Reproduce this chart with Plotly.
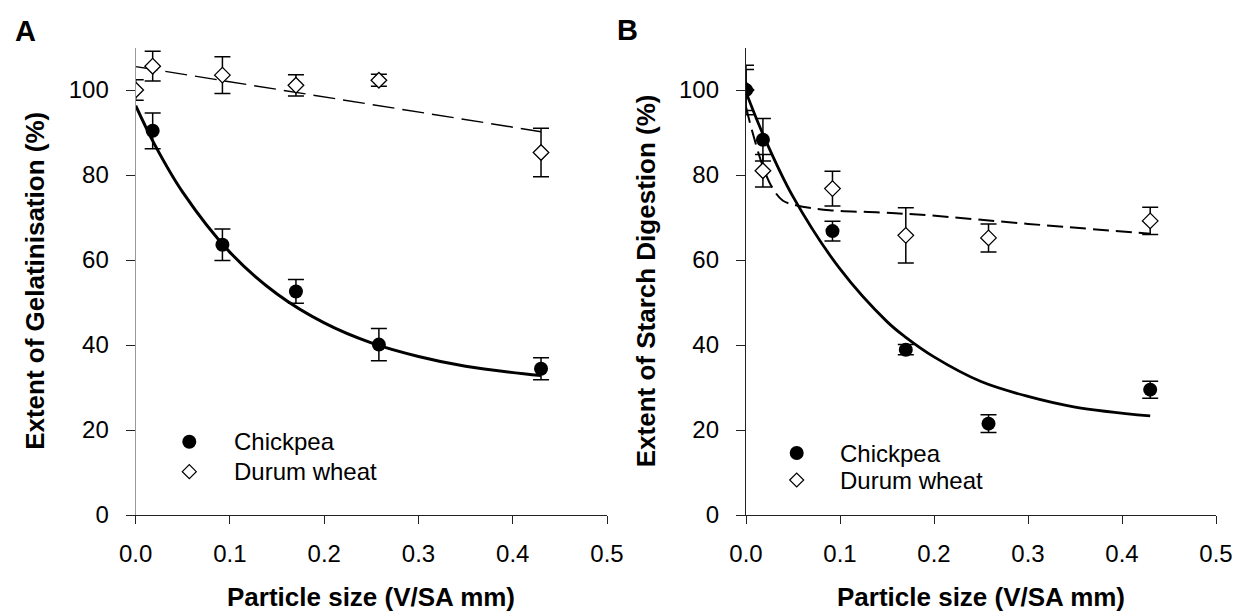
import plotly.graph_objects as go

# ---------------- data ----------------
x_pts = [0.0, 0.018, 0.092, 0.17, 0.258, 0.43]

# Panel A: Extent of gelatinisation (%)
a_chick_x = [0.018, 0.092, 0.17, 0.258, 0.43]
a_chick_y = [90.4, 63.6, 52.6, 40.1, 34.4]
a_chick_err = [4.2, 3.7, 2.8, 3.8, 2.6]
a_durum_y = [100.0, 105.6, 103.5, 101.1, 102.3, 85.3]
a_durum_err = [2.4, 3.5, 4.3, 2.5, 1.4, 5.7]
a_chick_fit_x = [0.0, 0.02, 0.05, 0.1, 0.15, 0.2, 0.25, 0.3, 0.35, 0.43]
a_chick_fit_y = [96.3, 87.2, 75.9, 61.8, 52.0, 45.2, 40.5, 37.3, 35.0, 32.8]
a_durum_fit_x = [0.0, 0.43]
a_durum_fit_y = [105.5, 90.2]

# Panel B: Extent of starch digestion (%)
b_chick_y = [100.0, 88.3, 66.8, 38.9, 21.5, 29.5]
b_chick_err = [4.8, 5.0, 2.3, 1.2, 2.1, 2.0]
b_durum_y = [100.0, 81.0, 76.8, 65.8, 65.2, 69.2]
b_durum_err = [5.8, 3.8, 4.1, 6.5, 3.3, 3.2]
b_chick_fit_x = [0.0, 0.02, 0.05, 0.1, 0.15, 0.17, 0.2, 0.25, 0.3, 0.35, 0.43]
b_chick_fit_y = [99.5, 88.6, 74.9, 57.9, 45.5, 41.8, 37.2, 31.4, 27.9, 25.4, 23.3]
b_durum_fit_x = [0.0, 0.007, 0.018, 0.028, 0.039, 0.053, 0.089, 0.142, 0.195, 0.3, 0.43]
b_durum_fit_y = [96.0, 90.0, 82.0, 77.0, 74.0, 72.9, 71.7, 71.2, 70.5, 68.5, 66.2]

x_ticks = [0.0, 0.1, 0.2, 0.3, 0.4, 0.5]
x_ticklabels = ["0.0", "0.1", "0.2", "0.3", "0.4", "0.5"]
y_ticks = [0, 20, 40, 60, 80, 100]

legend_labels = ["Chickpea", "Durum wheat"]
ytitle_a = "Extent of Gelatinisation (%)"
ytitle_b = "Extent of Starch Digestion (%)"
xtitle = "Particle size (V/SA mm)"

# ---------------- figure ----------------
W, H = 1237, 614
FONT = "Liberation Sans, Arial, sans-serif"

fig = go.Figure()

def err(arr):
    return dict(type="data", array=arr, visible=True, color="black",
                thickness=1.5, width=8)

# Panel A
fig.add_trace(go.Scatter(x=a_durum_fit_x, y=a_durum_fit_y, mode="lines",
                         line=dict(color="black", width=1.5, dash="22px,8px"),
                         xaxis="x", yaxis="y", showlegend=False))
fig.add_trace(go.Scatter(x=a_chick_fit_x, y=a_chick_fit_y, mode="lines",
                         line=dict(color="black", width=3, shape="spline"),
                         xaxis="x", yaxis="y", showlegend=False))
fig.add_trace(go.Scatter(x=x_pts, y=a_durum_y, mode="markers", error_y=err(a_durum_err),
                         marker=dict(symbol="diamond", size=12, color="white",
                                     line=dict(color="black", width=1.3)),
                         xaxis="x", yaxis="y", showlegend=False))
fig.add_trace(go.Scatter(x=a_chick_x, y=a_chick_y, mode="markers", error_y=err(a_chick_err),
                         marker=dict(symbol="circle", size=14, color="black"),
                         xaxis="x", yaxis="y", showlegend=False))

# Panel B
fig.add_trace(go.Scatter(x=b_durum_fit_x, y=b_durum_fit_y, mode="lines",
                         line=dict(color="black", width=2, dash="16px,7px", shape="spline"),
                         xaxis="x2", yaxis="y2", showlegend=False))
fig.add_trace(go.Scatter(x=b_chick_fit_x, y=b_chick_fit_y, mode="lines",
                         line=dict(color="black", width=2.8, shape="spline"),
                         xaxis="x2", yaxis="y2", showlegend=False))
fig.add_trace(go.Scatter(x=x_pts, y=b_durum_y, mode="markers", error_y=err(b_durum_err),
                         marker=dict(symbol="diamond", size=12, color="white",
                                     line=dict(color="black", width=1.3)),
                         xaxis="x2", yaxis="y2", showlegend=False))
fig.add_trace(go.Scatter(x=x_pts, y=b_chick_y, mode="markers", error_y=err(b_chick_err),
                         marker=dict(symbol="circle", size=14, color="black"),
                         xaxis="x2", yaxis="y2", showlegend=False))

def px_x(px):
    return px / W

def px_y(py):
    return 1 - py / H

ydom = [px_y(515), px_y(47.5)]
xdomA = [px_x(135.7), px_x(607)]
xdomB = [px_x(746), px_x(1216)]

tickfont = dict(family=FONT, size=24, color="black")

def xaxis(dom, anchor):
    return dict(domain=dom, anchor=anchor, range=[0, 0.5], tickvals=x_ticks,
                ticktext=x_ticklabels, ticks="outside", ticklen=8, tickwidth=1.3,
                tickcolor="#222", showline=True, linecolor="#222", linewidth=1.3,
                showgrid=False, zeroline=False, tickfont=tickfont,
                ticklabelstandoff=9, automargin=False, fixedrange=True)

def yaxis(anchor, lcolor):
    return dict(domain=ydom, anchor=anchor, range=[0, 110], tickvals=y_ticks,
                ticks="outside", ticklen=9, tickwidth=1.3, tickcolor="#222",
                showline=True, linecolor=lcolor, linewidth=1.3,
                showgrid=False, zeroline=False, tickfont=tickfont,
                ticklabelstandoff=12, automargin=False, fixedrange=True)

fig.update_layout(
    width=W, height=H,
    margin=dict(l=0, r=0, t=0, b=0),
    paper_bgcolor="white", plot_bgcolor="white",
    showlegend=False,
    font=dict(family=FONT, color="black"),
    xaxis=xaxis(xdomA, "y"),
    yaxis=yaxis("x", "#999"),
    xaxis2=xaxis(xdomB, "y2"),
    yaxis2=yaxis("x2", "#222"),
)

annotations = []
# panel letters
annotations.append(dict(text="<b>A</b>", x=px_x(25), y=px_y(31), xref="paper", yref="paper",
                        showarrow=False, xanchor="center", yanchor="middle",
                        font=dict(family=FONT, size=29, color="black")))
annotations.append(dict(text="<b>B</b>", x=px_x(627), y=px_y(30), xref="paper", yref="paper",
                        showarrow=False, xanchor="center", yanchor="middle",
                        font=dict(family=FONT, size=29, color="black")))
# axis titles
for cx, t in [(35.6, ytitle_a), (646, ytitle_b)]:
    annotations.append(dict(text="<b>" + t + "</b>", x=px_x(cx), y=(ydom[0] + ydom[1]) / 2,
                            xref="paper", yref="paper", showarrow=False, textangle=-90,
                            xanchor="center", yanchor="middle",
                            font=dict(family=FONT, size=26, color="black")))
for cx in [(135.7 + 607) / 2, (746 + 1216) / 2]:
    annotations.append(dict(text="<b>" + xtitle + "</b>", x=px_x(cx), y=px_y(597),
                            xref="paper", yref="paper", showarrow=False,
                            xanchor="center", yanchor="middle",
                            font=dict(family=FONT, size=26, color="black")))

# manual legends
shapes = []
legend_pos = [  # (marker x, row1 y, row2 y, text x)
    (189.3, 441.7, 471.7, 231.7),
    (796.7, 453.0, 480.0, 838.3),
]
for mx, y1, y2, tx in legend_pos:
    shapes.append(dict(type="circle", xref="paper", yref="paper",
                       xsizemode="pixel", ysizemode="pixel",
                       xanchor=px_x(mx), yanchor=px_y(y1),
                       x0=-7, x1=7, y0=-7, y1=7,
                       fillcolor="black", line=dict(color="black", width=0)))
    shapes.append(dict(type="path", xref="paper", yref="paper",
                       xsizemode="pixel", ysizemode="pixel",
                       xanchor=px_x(mx), yanchor=px_y(y2),
                       path="M -7 0 L 0 7 L 7 0 L 0 -7 Z",
                       fillcolor="white", line=dict(color="black", width=1.2)))
    for yy, lab in [(y1, legend_labels[0]), (y2, legend_labels[1])]:
        annotations.append(dict(text=lab, x=px_x(tx), y=px_y(yy), xref="paper", yref="paper",
                                showarrow=False, xanchor="left", yanchor="middle",
                                font=dict(family=FONT, size=24, color="black")))

fig.update_layout(annotations=annotations, shapes=shapes)

fig.write_html("out.html", config=dict(displayModeBar=False))
